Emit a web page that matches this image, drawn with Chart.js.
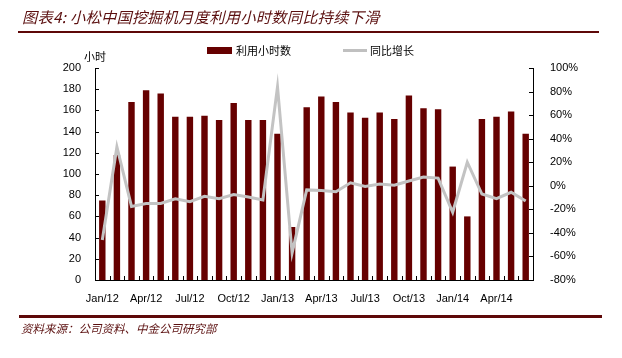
<!DOCTYPE html>
<html><head><meta charset="utf-8">
<script src="https://cdn.jsdelivr.net/npm/chart.js@4"></script>
<style>
html,body{margin:0;padding:0;background:#fff;}
#wrap{position:relative;width:622px;height:358px;overflow:hidden;font-family:"Noto Sans CJK SC","Noto Sans",sans-serif;}
#c{position:absolute;left:0;top:0;}
.t{position:absolute;white-space:nowrap;}
#title{left:22px;top:5px;font-size:15.2px;font-style:italic;color:#5b0f0f;letter-spacing:0.3px;}
#tline{position:absolute;left:18px;top:31px;width:581px;height:2px;background:#5e0808;}
#bline{position:absolute;left:19px;top:315px;width:583px;height:3px;background:#5e0808;}
#src{left:21px;top:320px;font-size:11.5px;font-style:italic;color:#5b0f0f;}
.leg{font-size:11px;color:#000;top:42px;}
#unit{left:84px;top:48px;font-size:11px;color:#000;}
</style></head>
<body><div id="wrap">
<canvas id="c" width="622" height="358"></canvas>
<div class="t" id="title">图表4: 小松中国挖掘机月度利用小时数同比持续下滑</div>
<div id="tline"></div>
<div style="position:absolute;left:207px;top:47px;width:25px;height:7px;background:#660000;"></div>
<div class="t leg" style="left:236px;">利用小时数</div>
<div style="position:absolute;left:343px;top:49px;width:24px;height:3px;background:#c0c0c0;"></div>
<div class="t leg" style="left:370px;">同比增长</div>
<div class="t" id="unit">小时</div>
<div id="bline"></div>
<div class="t" id="src">资料来源：公司资料、中金公司研究部</div>
</div>
<script>
const months = ["Jan/12","Feb/12","Mar/12","Apr/12","May/12","Jun/12","Jul/12","Aug/12","Sep/12","Oct/12","Nov/12","Dec/12",
"Jan/13","Feb/13","Mar/13","Apr/13","May/13","Jun/13","Jul/13","Aug/13","Sep/13","Oct/13","Nov/13","Dec/13",
"Jan/14","Feb/14","Mar/14","Apr/14","May/14","Jun/14"];
const hours = [75,118,168,179,176,154,154,155,151,167,151,151,138,50,163,173,168,158,153,158,152,174,162,161,107,60,152,154,159,138];
const yoy = [-46,33,-17.5,-15,-15,-11,-13.5,-9,-11,-7.5,-9.5,-12,84,-57,-3.5,-4,-5,2.5,-0.5,1.5,0.5,4,7.5,6.5,-22.5,20,-7,-11,-5.5,-13];
const shownMonths = ["Jan/12","Apr/12","Jul/12","Oct/12","Jan/13","Apr/13","Jul/13","Oct/13","Jan/14","Apr/14"];
const leftTicks = {min:0,max:200,step:20};
const rightTicks = {min:-80,max:100,step:20};

const tickFont = {family:"'Liberation Sans', Arial, sans-serif", size:11};

const innerTicks = {
  id:'innerTicks',
  afterDraw(chart){
    const ctx = chart.ctx, a = chart.chartArea;
    ctx.save();
    ctx.strokeStyle = '#000'; ctx.lineWidth = 1;
    const yl = chart.scales.y, yr = chart.scales.y1, x = chart.scales.x;
    ctx.beginPath();
    yl.ticks.forEach(t=>{ const p = Math.round(yl.getPixelForValue(t.value))+0.5; ctx.moveTo(a.left, p); ctx.lineTo(a.left+4, p); });
    yr.ticks.forEach(t=>{ const p = Math.round(yr.getPixelForValue(t.value))+0.5; ctx.moveTo(a.right, p); ctx.lineTo(a.right-4, p); });
    for (let i=1;i<months.length;i++){ const p = Math.round(x.getPixelForValue(i-0.5))+0.5; ctx.moveTo(p, a.bottom); ctx.lineTo(p, a.bottom-4); }
    ctx.stroke();
    ctx.restore();
  }
};

new Chart(document.getElementById('c'), {
  data:{
    labels: months,
    datasets:[
      {type:'bar', label:'利用小时数', data: hours, backgroundColor:'#660000', yAxisID:'y', order:1,
       categoryPercentage:1.0, barPercentage:0.44},
      {type:'line', label:'同比增长', data: yoy, borderColor:'#c3c3c3', borderWidth:3, pointRadius:0, tension:0, yAxisID:'y1', order:0}
    ]
  },
  options:{
    responsive:false, animation:false,
    layout:{padding:{top:68,left:0,right:0,bottom:0}},
    plugins:{legend:{display:false}, tooltip:{enabled:false}},
    scales:{
      x:{
        grid:{display:false}, border:{display:true,color:'#000',width:1},
        ticks:{color:'#000', font:tickFont, maxRotation:0, autoSkip:false, padding:4,
          callback:function(v,i){ const l = months[i]; return shownMonths.includes(l) ? l : ''; }},
        afterFit(s){ s.height = 78; }
      },
      y:{
        position:'left', min:leftTicks.min, max:leftTicks.max,
        grid:{display:false}, border:{display:true,color:'#000',width:1},
        ticks:{stepSize:leftTicks.step, color:'#000', font:tickFont, padding:6},
        afterFit(s){ s.width = 95; }
      },
      y1:{
        position:'right', min:rightTicks.min, max:rightTicks.max,
        grid:{display:false}, border:{display:true,color:'#000',width:1},
        ticks:{stepSize:rightTicks.step, color:'#000', font:tickFont, padding:9, callback:v=>v+'%'},
        afterFit(s){ s.width = 89; }
      }
    }
  },
  plugins:[innerTicks]
});
</script>
</body></html>
